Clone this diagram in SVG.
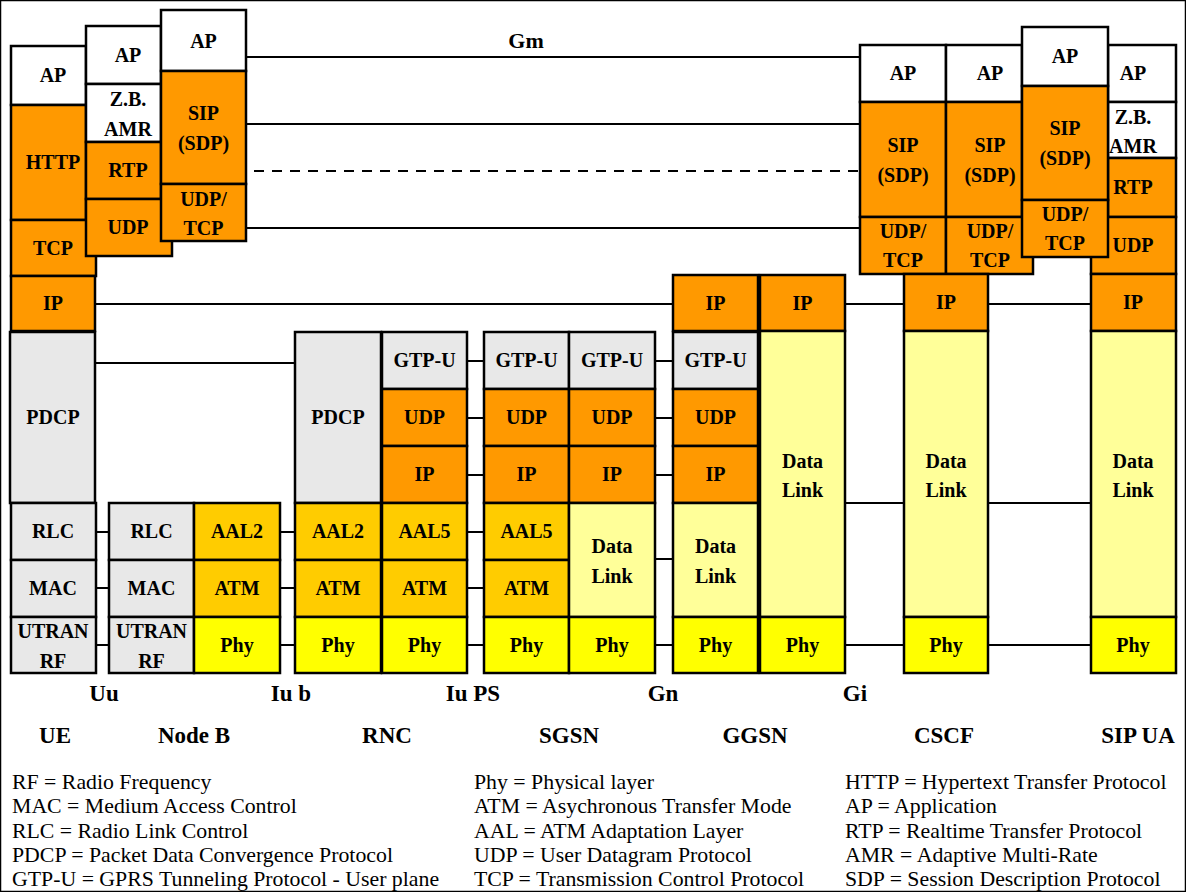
<svg xmlns="http://www.w3.org/2000/svg" width="1186" height="892" viewBox="0 0 1186 892">
<style>
rect{stroke:#000;stroke-width:2.5}
.w{fill:#fff}.g{fill:#e8e8e8}.o{fill:#ff9900}.a{fill:#ffcc00}.y{fill:#ffff00}.l{fill:#ffff99}
text{fill:#000;font-family:"Liberation Serif","Times New Roman",serif}
.t{font-size:20px;font-weight:bold;text-anchor:middle}
.n{font-size:23px;font-weight:bold;text-anchor:middle}
.k{font-size:21.8px}
#conn line{stroke:#000;stroke-width:2}
</style>
<rect x="0" y="0" width="1186" height="892" fill="#fff" stroke="none"/>
<g id="conn">
<line x1="246" y1="57" x2="860" y2="57"/>
<line x1="246" y1="124" x2="860" y2="124"/>
<line x1="254" y1="171" x2="860" y2="171" stroke-dasharray="10 8"/>
<line x1="246" y1="228" x2="860" y2="228"/>
<line x1="95" y1="304" x2="673" y2="304"/>
<line x1="845" y1="304" x2="904" y2="304"/>
<line x1="988" y1="304" x2="1091" y2="304"/>
<line x1="95" y1="363" x2="295" y2="363"/>
<line x1="96" y1="532" x2="109" y2="532"/>
<line x1="96" y1="588" x2="109" y2="588"/>
<line x1="96" y1="645" x2="109" y2="645"/>
<line x1="280" y1="532" x2="295" y2="532"/>
<line x1="280" y1="588" x2="295" y2="588"/>
<line x1="280" y1="645" x2="295" y2="645"/>
<line x1="467" y1="361" x2="484" y2="361"/>
<line x1="467" y1="418" x2="484" y2="418"/>
<line x1="467" y1="475" x2="484" y2="475"/>
<line x1="467" y1="532" x2="484" y2="532"/>
<line x1="467" y1="588" x2="484" y2="588"/>
<line x1="467" y1="645" x2="484" y2="645"/>
<line x1="655" y1="361" x2="673" y2="361"/>
<line x1="655" y1="418" x2="673" y2="418"/>
<line x1="655" y1="475" x2="673" y2="475"/>
<line x1="655" y1="559" x2="673" y2="559"/>
<line x1="655" y1="645" x2="673" y2="645"/>
<line x1="845" y1="503" x2="904" y2="503"/>
<line x1="988" y1="503" x2="1091" y2="503"/>
<line x1="845" y1="645" x2="904" y2="645"/>
<line x1="988" y1="645" x2="1091" y2="645"/>
</g>
<text class="t" x="526" y="48" style="font-size:22px">Gm</text>

<g id="ue">
<rect class="w" x="11" y="46" width="75" height="59"/><text class="t" x="53" y="82">AP</text>
<rect class="o" x="11" y="105" width="75" height="115"/><text class="t" x="53" y="169">HTTP</text>
<rect class="o" x="11" y="220" width="85" height="56"/><text class="t" x="53" y="255">TCP</text>
<rect class="o" x="11" y="276" width="84" height="55"/><text class="t" x="53" y="310">IP</text>
<rect class="g" x="10" y="332" width="85" height="171"/><text class="t" x="53" y="424">PDCP</text>
<rect class="g" x="11" y="503" width="85" height="57"/><text class="t" x="53" y="538">RLC</text>
<rect class="g" x="11" y="560" width="85" height="57"/><text class="t" x="53" y="595">MAC</text>
<rect class="g" x="11" y="617" width="85" height="56"/><text class="t" x="53" y="638">UTRAN</text><text class="t" x="53" y="668">RF</text>
<rect class="w" x="86" y="26" width="75" height="58"/><text class="t" x="128" y="62">AP</text>
<rect class="w" x="86" y="84" width="75" height="58"/><text class="t" x="128" y="106">Z.B.</text><text class="t" x="128" y="136">AMR</text>
<rect class="o" x="86" y="142" width="75" height="57"/><text class="t" x="128" y="177">RTP</text>
<rect class="o" x="86" y="199" width="86" height="57"/><text class="t" x="128" y="234">UDP</text>
<rect class="w" x="161" y="10" width="85" height="61"/><text class="t" x="203.5" y="48">AP</text>
<rect class="o" x="161" y="71" width="85" height="113"/><text class="t" x="203.5" y="120">SIP</text><text class="t" x="203.5" y="150">(SDP)</text>
<rect class="o" x="161" y="184" width="85" height="57"/><text class="t" x="203.5" y="206">UDP/</text><text class="t" x="203.5" y="235">TCP</text>
<text class="n" x="55" y="743">UE</text>
</g>

<g id="nodeb">
<rect class="g" x="109" y="503" width="85" height="57"/><text class="t" x="151.5" y="538">RLC</text>
<rect class="g" x="109" y="560" width="85" height="57"/><text class="t" x="151.5" y="595">MAC</text>
<rect class="g" x="109" y="617" width="85" height="56"/><text class="t" x="151.5" y="638">UTRAN</text><text class="t" x="151.5" y="668">RF</text>
<rect class="a" x="194" y="503" width="86" height="57"/><text class="t" x="237" y="538">AAL2</text>
<rect class="a" x="194" y="560" width="86" height="57"/><text class="t" x="237" y="595">ATM</text>
<rect class="y" x="194" y="617" width="86" height="56"/><text class="t" x="237" y="652">Phy</text>
<text class="n" x="194" y="743">Node B</text>
</g>

<g id="rnc">
<rect class="g" x="295" y="332" width="86" height="171"/><text class="t" x="338" y="424">PDCP</text>
<rect class="a" x="295" y="503" width="86" height="57"/><text class="t" x="338" y="538">AAL2</text>
<rect class="a" x="295" y="560" width="86" height="57"/><text class="t" x="338" y="595">ATM</text>
<rect class="y" x="295" y="617" width="86" height="56"/><text class="t" x="338" y="652">Phy</text>
<rect class="g" x="382" y="332" width="85" height="57"/><text class="t" x="424.5" y="367">GTP-U</text>
<rect class="o" x="382" y="389" width="85" height="57"/><text class="t" x="424.5" y="424">UDP</text>
<rect class="o" x="382" y="446" width="85" height="57"/><text class="t" x="424.5" y="481">IP</text>
<rect class="a" x="382" y="503" width="85" height="57"/><text class="t" x="424.5" y="538">AAL5</text>
<rect class="a" x="382" y="560" width="85" height="57"/><text class="t" x="424.5" y="595">ATM</text>
<rect class="y" x="382" y="617" width="85" height="56"/><text class="t" x="424.5" y="652">Phy</text>
<text class="n" x="387" y="743">RNC</text>
</g>

<g id="sgsn">
<rect class="g" x="484" y="332" width="85" height="57"/><text class="t" x="526.5" y="367">GTP-U</text>
<rect class="o" x="484" y="389" width="85" height="57"/><text class="t" x="526.5" y="424">UDP</text>
<rect class="o" x="484" y="446" width="85" height="57"/><text class="t" x="526.5" y="481">IP</text>
<rect class="a" x="484" y="503" width="85" height="57"/><text class="t" x="526.5" y="538">AAL5</text>
<rect class="a" x="484" y="560" width="85" height="57"/><text class="t" x="526.5" y="595">ATM</text>
<rect class="y" x="484" y="617" width="85" height="56"/><text class="t" x="526.5" y="652">Phy</text>
<rect class="g" x="569" y="332" width="86" height="57"/><text class="t" x="612" y="367">GTP-U</text>
<rect class="o" x="569" y="389" width="86" height="57"/><text class="t" x="612" y="424">UDP</text>
<rect class="o" x="569" y="446" width="86" height="57"/><text class="t" x="612" y="481">IP</text>
<rect class="l" x="569" y="503" width="86" height="114"/><text class="t" x="612" y="553">Data</text><text class="t" x="612" y="583">Link</text>
<rect class="y" x="569" y="617" width="86" height="56"/><text class="t" x="612" y="652">Phy</text>
<text class="n" x="569" y="743">SGSN</text>
</g>

<g id="ggsn">
<rect class="o" x="673" y="275" width="85" height="56"/><text class="t" x="715.5" y="310">IP</text>
<rect class="g" x="673" y="332" width="85" height="57"/><text class="t" x="715.5" y="367">GTP-U</text>
<rect class="o" x="673" y="389" width="85" height="57"/><text class="t" x="715.5" y="424">UDP</text>
<rect class="o" x="673" y="446" width="85" height="57"/><text class="t" x="715.5" y="481">IP</text>
<rect class="l" x="673" y="503" width="85" height="114"/><text class="t" x="715.5" y="553">Data</text><text class="t" x="715.5" y="583">Link</text>
<rect class="y" x="673" y="617" width="85" height="56"/><text class="t" x="715.5" y="652">Phy</text>
<rect class="o" x="760" y="275" width="85" height="56"/><text class="t" x="802.5" y="310">IP</text>
<rect class="l" x="760" y="331" width="85" height="286"/><text class="t" x="802.5" y="468">Data</text><text class="t" x="802.5" y="497">Link</text>
<rect class="y" x="760" y="617" width="85" height="56"/><text class="t" x="802.5" y="652">Phy</text>
<text class="n" x="755" y="743">GGSN</text>
</g>

<g id="cscf">
<rect class="w" x="860" y="45" width="86" height="57"/><text class="t" x="903" y="80">AP</text>
<rect class="o" x="860" y="102" width="86" height="115"/><text class="t" x="903" y="152">SIP</text><text class="t" x="903" y="182">(SDP)</text>
<rect class="o" x="860" y="217" width="86" height="57"/><text class="t" x="903" y="238">UDP/</text><text class="t" x="903" y="267">TCP</text>
<rect class="w" x="946" y="45" width="76" height="57"/><text class="t" x="990" y="80">AP</text>
<rect class="o" x="946" y="102" width="76" height="115"/><text class="t" x="990" y="152">SIP</text><text class="t" x="990" y="182">(SDP)</text>
<rect class="o" x="946" y="217" width="87" height="57"/><text class="t" x="990" y="238">UDP/</text><text class="t" x="990" y="267">TCP</text>
<rect class="o" x="904" y="274" width="84" height="57"/><text class="t" x="946" y="309">IP</text>
<rect class="l" x="904" y="331" width="84" height="286"/><text class="t" x="946" y="468">Data</text><text class="t" x="946" y="497">Link</text>
<rect class="y" x="904" y="617" width="84" height="56"/><text class="t" x="946" y="652">Phy</text>
<text class="n" x="944" y="743">CSCF</text>
</g>

<g id="sipua">
<rect class="w" x="1108" y="45" width="68" height="57"/><text class="t" x="1133" y="80">AP</text>
<rect class="w" x="1108" y="102" width="68" height="56"/><text class="t" x="1133" y="124">Z.B.</text><text class="t" x="1133" y="153">AMR</text>
<rect class="o" x="1108" y="158" width="68" height="59"/><text class="t" x="1133" y="194">RTP</text>
<rect class="o" x="1091" y="217" width="85" height="57"/><text class="t" x="1133" y="252">UDP</text>
<rect class="o" x="1091" y="274" width="85" height="57"/><text class="t" x="1133" y="309">IP</text>
<rect class="l" x="1091" y="331" width="85" height="286"/><text class="t" x="1133" y="468">Data</text><text class="t" x="1133" y="497">Link</text>
<rect class="y" x="1091" y="617" width="85" height="56"/><text class="t" x="1133" y="652">Phy</text>
<rect class="w" x="1022" y="27" width="86" height="59"/><text class="t" x="1065" y="63">AP</text>
<rect class="o" x="1022" y="86" width="86" height="114"/><text class="t" x="1065" y="135">SIP</text><text class="t" x="1065" y="165">(SDP)</text>
<rect class="o" x="1022" y="200" width="86" height="57"/><text class="t" x="1065" y="221">UDP/</text><text class="t" x="1065" y="250">TCP</text>
<text class="n" x="1138" y="743">SIP UA</text>
</g>

<g id="interfaces">
<text class="n" x="104" y="701">Uu</text>
<text class="n" x="291" y="701">Iu b</text>
<text class="n" x="473" y="701">Iu PS</text>
<text class="n" x="663" y="701">Gn</text>
<text class="n" x="855" y="701">Gi</text>
</g>

<g id="legend">
<text class="k" x="12" y="789">RF = Radio Frequency</text>
<text class="k" x="12" y="813">MAC = Medium Access Control</text>
<text class="k" x="12" y="838">RLC = Radio Link Control</text>
<text class="k" x="12" y="862">PDCP = Packet Data Convergence Protocol</text>
<text class="k" x="12" y="886">GTP-U = GPRS Tunneling Protocol - User plane</text>
<text class="k" x="474" y="789">Phy = Physical layer</text>
<text class="k" x="474" y="813">ATM = Asychronous Transfer Mode</text>
<text class="k" x="474" y="838">AAL = ATM Adaptation Layer</text>
<text class="k" x="474" y="862">UDP = User Datagram Protocol</text>
<text class="k" x="474" y="886">TCP = Transmission Control Protocol</text>
<text class="k" x="845" y="789">HTTP = Hypertext Transfer Protocol</text>
<text class="k" x="845" y="813">AP = Application</text>
<text class="k" x="845" y="838">RTP = Realtime Transfer Protocol</text>
<text class="k" x="845" y="862">AMR = Adaptive Multi-Rate</text>
<text class="k" x="845" y="886">SDP = Session Description Protocol</text>
</g>
</svg>
